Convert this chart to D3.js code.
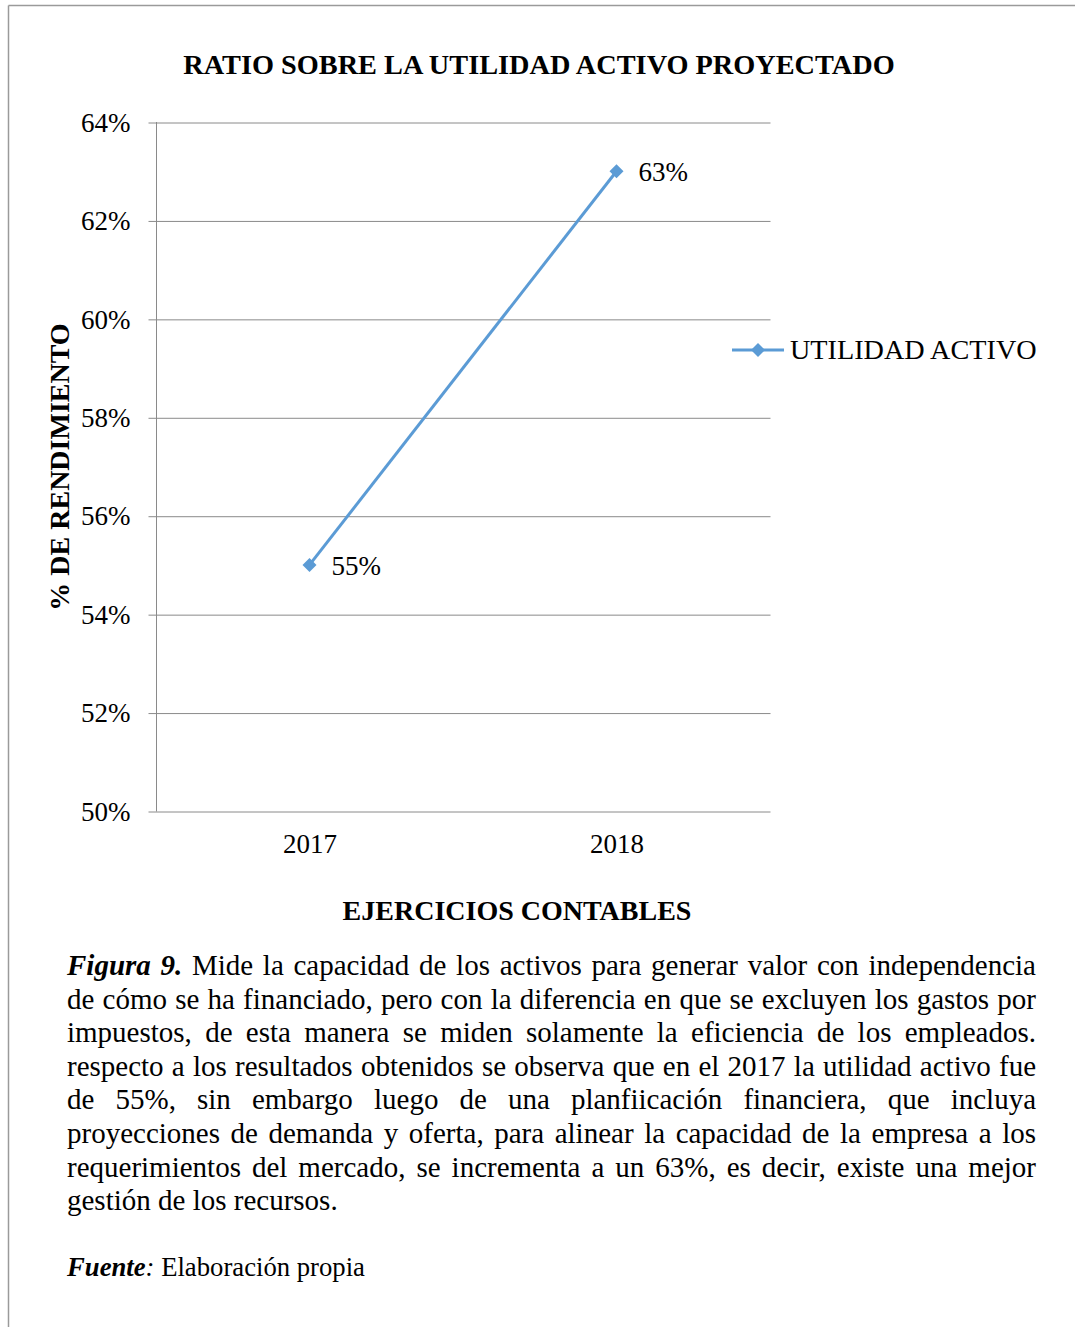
<!DOCTYPE html>
<html><head><meta charset="utf-8">
<script src="https://cdn.jsdelivr.net/npm/d3@7"></script>
<style>
html,body{margin:0;padding:0;background:#fff;}
svg{display:block;font-family:"Liberation Serif","Times New Roman",serif;}
</style></head>
<body>
<script>
// ---- data ----
const categories = ["2017", "2018"];
const seriesName = "UTILIDAD ACTIVO";
const values = [0.55, 0.63];
const valueLabels = ["55%", "63%"];
const yTicks = [0.50, 0.52, 0.54, 0.56, 0.58, 0.60, 0.62, 0.64];
const chartTitle = "RATIO SOBRE LA UTILIDAD ACTIVO PROYECTADO";
const yTitle = "% DE RENDIMIENTO";
const xTitle = "EJERCICIOS CONTABLES";
const captionLead = "Figura 9.";
const captionLines = [
  "Mide la capacidad de los activos para generar valor con independencia",
  "de cómo se ha financiado, pero con la diferencia en que se excluyen los gastos por",
  "impuestos, de esta manera se miden solamente la eficiencia de los empleados.",
  "respecto a los resultados obtenidos se observa que en el 2017 la utilidad activo fue",
  "de 55%, sin embargo luego de una planfiicación financiera, que incluya",
  "proyecciones de demanda y oferta, para alinear la capacidad de la empresa a los",
  "requerimientos del mercado, se incrementa a un 63%, es decir, existe una mejor",
  "gestión de los recursos."
];
const sourceLead = "Fuente";
const sourceText = "Elaboración propia";

// ---- layout ----
const W = 1075, H = 1327;
const plot = {left: 156, right: 770, top: 122, bottom: 811};
const lineColor = "#5B9BD5";
const gridColor = "#8a8a8a";

const svg = d3.select("body").append("svg").attr("width", W).attr("height", H);

// outer frame (top and left)
svg.append("line").attr("x1", 8.5).attr("x2", W).attr("y1", 5.5).attr("y2", 5.5)
  .attr("stroke", "#9a9a9a").attr("stroke-width", 1.5);
svg.append("line").attr("x1", 8.5).attr("x2", 8.5).attr("y1", 5.5).attr("y2", H)
  .attr("stroke", "#9a9a9a").attr("stroke-width", 1.5);

const x = d3.scalePoint().domain(categories).range([plot.left, plot.right]).padding(0.5);
const y = d3.scaleLinear().domain([0.50, 0.64]).range([plot.bottom, plot.top]);

// title
svg.append("text").attr("x", 539).attr("y", 74).attr("text-anchor", "middle")
  .attr("font-weight", "bold").attr("font-size", 28.3).text(chartTitle);

// y axis with gridlines
const yAxis = d3.axisLeft(y).tickValues(yTicks).tickFormat(d3.format(".0%"))
  .tickSize(-(plot.right - plot.left) - 8).tickPadding(18);
const yg = svg.append("g").attr("transform", `translate(${plot.left - 8 + 0.5},0)`).call(yAxis);
yg.select(".domain").remove();
yg.selectAll(".tick line").attr("stroke", gridColor).attr("stroke-width", 1).attr("transform", "translate(0,0.5)");
yg.selectAll(".tick text").attr("font-size", 27).attr("font-family", "Liberation Serif")
  .attr("fill", "#000").attr("x", -(plot.left - 8 - 130)).attr("dy", "0.34em");

// vertical axis line
svg.append("line").attr("x1", plot.left + 0.5).attr("x2", plot.left + 0.5)
  .attr("y1", plot.top).attr("y2", plot.bottom + 0.5).attr("stroke", gridColor);

// x axis labels
const xAxis = d3.axisBottom(x).tickSize(0).tickPadding(0);
const xg = svg.append("g").attr("transform", `translate(0,${plot.bottom})`).call(xAxis);
xg.select(".domain").remove();
xg.selectAll(".tick text").attr("font-size", 27).attr("font-family", "Liberation Serif")
  .attr("fill", "#000").attr("y", 42).attr("dy", 0);

// axis titles
svg.append("text").attr("x", 517).attr("y", 920).attr("text-anchor", "middle")
  .attr("font-weight", "bold").attr("font-size", 28).text(xTitle);
svg.append("text").attr("transform", "translate(69,467) rotate(-90)").attr("text-anchor", "middle")
  .attr("font-weight", "bold").attr("font-size", 28).text(yTitle);

// series line
const pts = categories.map((c, i) => ({c, v: values[i], label: valueLabels[i]}));
svg.append("path").datum(pts)
  .attr("d", d3.line().x(d => x(d.c)).y(d => y(d.v)))
  .attr("fill", "none").attr("stroke", lineColor).attr("stroke-width", 3);

const diamond = r => `M0,${-r}L${r},0L0,${r}L${-r},0Z`;
svg.selectAll(".mk").data(pts).join("path")
  .attr("transform", d => `translate(${x(d.c)},${y(d.v)})`)
  .attr("d", diamond(7)).attr("fill", lineColor);

svg.selectAll(".lbl").data(pts).join("text")
  .attr("x", d => x(d.c) + 22).attr("y", d => y(d.v) + 10)
  .attr("font-size", 27).text(d => d.label);

// legend
svg.append("line").attr("x1", 732).attr("x2", 784).attr("y1", 350).attr("y2", 350)
  .attr("stroke", lineColor).attr("stroke-width", 3);
svg.append("path").attr("transform", "translate(758,350)").attr("d", diamond(7)).attr("fill", lineColor);
svg.append("text").attr("x", 790).attr("y", 359).attr("font-size", 28.2).text(seriesName);

// caption (justified)
const capFont = 29, capLeft = 67, capRight = 1036, capTop = 975, capLH = 33.6;
captionLines.forEach((line, i) => {
  let words = line.split(" ").map(w => ({w, lead: false}));
  if (i === 0) words = captionLead.split(" ").map(w => ({w, lead: true})).concat(words);
  const g = svg.append("g");
  const nodes = words.map(d => g.append("text").attr("y", capTop + i * capLH)
    .attr("font-size", capFont)
    .attr("font-weight", d.lead ? "bold" : "normal")
    .attr("font-style", d.lead ? "italic" : "normal").text(d.w));
  const widths = nodes.map(n => n.node().getComputedTextLength());
  const total = d3.sum(widths);
  const last = i === captionLines.length - 1;
  const gap = last ? capFont * 0.25 : Math.max(capFont * 0.12, (capRight - capLeft - total) / (words.length - 1));
  let cx = capLeft;
  nodes.forEach((n, k) => { n.attr("x", cx); cx += widths[k] + gap; });
});

// source line
const src = svg.append("text").attr("x", 67).attr("y", 1276).attr("font-size", 26.7)
  .style("white-space", "pre");
src.append("tspan").attr("font-weight", "bold").attr("font-style", "italic").text(sourceLead);
src.append("tspan").attr("font-style", "italic").text(":");
src.append("tspan").text(" " + sourceText);
</script>
</body></html>
